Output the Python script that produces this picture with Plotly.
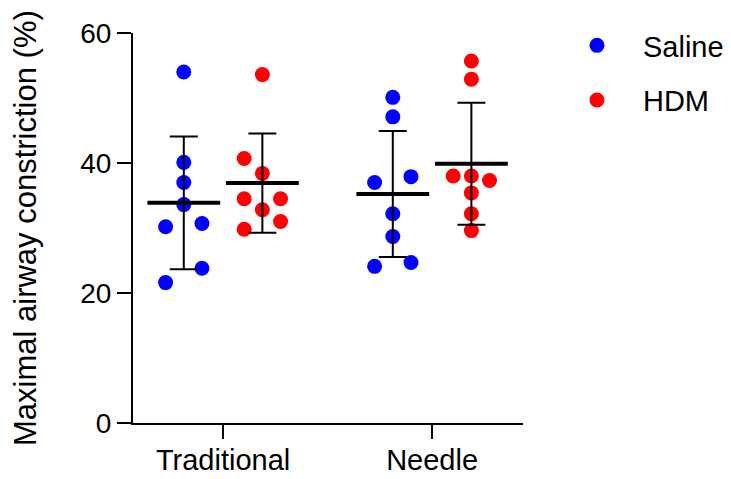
import numpy as np
import plotly.graph_objects as go

# ---- data ----
categories = ["Traditional", "Needle"]
groups = ["Saline", "HDM"]
saline_traditional = [54.0, 40.1, 37.0, 33.6, 30.2, 30.7, 23.8, 21.6]
hdm_traditional = [53.6, 40.7, 38.4, 34.5, 34.5, 32.8, 31.0, 29.8]
saline_needle = [50.1, 47.1, 37.0, 37.9, 32.2, 28.7, 24.1, 24.7]
hdm_needle = [55.7, 52.9, 38.0, 38.0, 37.3, 35.4, 32.2, 29.6]
y_ticks = [0, 20, 40, 60]

# ---- layout helpers (positions, not data) ----
cat_pos = {"Traditional": 1.0, "Needle": 2.0}
group_offset = {"Saline": -0.188, "HDM": 0.188}
jit = 0.087
jitter = {
    ("Saline", "Traditional"): [0, 0, 0, 0, -1, 1, 1, -1],
    ("HDM", "Traditional"): [0, -1, 0, -1, 1, 0, 1, -1],
    ("Saline", "Needle"): [0, 0, -1, 1, 0, 0, -1, 1],
    ("HDM", "Needle"): [0, 0, -1, 0, 1, 0, 0, 0],
}
values = {
    ("Saline", "Traditional"): saline_traditional,
    ("HDM", "Traditional"): hdm_traditional,
    ("Saline", "Needle"): saline_needle,
    ("HDM", "Needle"): hdm_needle,
}
colors = {"Saline": "#0000FF", "HDM": "#FF0000"}
FONT = "Arial, Liberation Sans, sans-serif"

fig = go.Figure()

for g in groups:
    xs, ys = [], []
    for c in categories:
        v = values[(g, c)]
        base = cat_pos[c] + group_offset[g]
        xs += [base + j * jit for j in jitter[(g, c)]]
        ys += v
    fig.add_trace(go.Scatter(
        x=xs, y=ys, mode="markers", name=g, legendgroup=g,
        marker=dict(color=colors[g], size=15, line=dict(width=0)),
    ))

# mean +/- SD
mx, my, sd = [], [], []
for c in categories:
    for g in groups:
        v = np.array(values[(g, c)])
        mx.append(cat_pos[c] + group_offset[g])
        my.append(v.mean())
        sd.append(v.std(ddof=1))
fig.add_trace(go.Scatter(
    x=mx, y=my, mode="markers", showlegend=False, hoverinfo="skip",
    marker=dict(symbol="line-ew", size=52, color="black",
                line=dict(width=4, color="black")),
    error_y=dict(type="data", array=sd, symmetric=True, color="black",
                 thickness=2, width=14),
))

# the page body adds an 8px margin, so the figure is 8px smaller
fig.update_layout(
    template="none",
    width=723, height=471,
    margin=dict(l=125, r=208, t=25, b=56, autoexpand=False),
    paper_bgcolor="white", plot_bgcolor="white",
    font=dict(family=FONT, color="black"),
    showlegend=True,
    legend=dict(
        xref="container", yref="container",
        x=0.751, y=0.9745, xanchor="left", yanchor="top",
        font=dict(size=29, family=FONT, color="black"),
        traceorder="grouped", tracegroupgap=14, itemwidth=82,
        bgcolor="rgba(0,0,0,0)", borderwidth=0,
    ),
    xaxis=dict(
        range=[0.569, 2.435], tickvals=[cat_pos[c] for c in categories],
        ticktext=categories, showline=True, linecolor="black", linewidth=2,
        ticks="outside", ticklen=14, tickwidth=2, tickcolor="black",
        showgrid=False, zeroline=False, automargin=False,
        ticklabelstandoff=-4,
        tickfont=dict(size=29, family=FONT, color="black"),
    ),
    yaxis=dict(
        range=[0, 60], tickvals=y_ticks, showline=True, linecolor="black",
        linewidth=2, ticks="outside", ticklen=14, tickwidth=2,
        tickcolor="black", showgrid=False, zeroline=False, automargin=False,
        tickfont=dict(size=28, family=FONT, color="black"),
    ),
    annotations=[dict(
        text="Maximal airway constriction (%)", textangle=-90,
        xref="paper", yref="paper", x=0, y=0.5, xshift=-108,
        xanchor="center", yanchor="middle", showarrow=False,
        font=dict(size=31, family=FONT, color="black"),
    )],
)

fig.write_html("out.html")
